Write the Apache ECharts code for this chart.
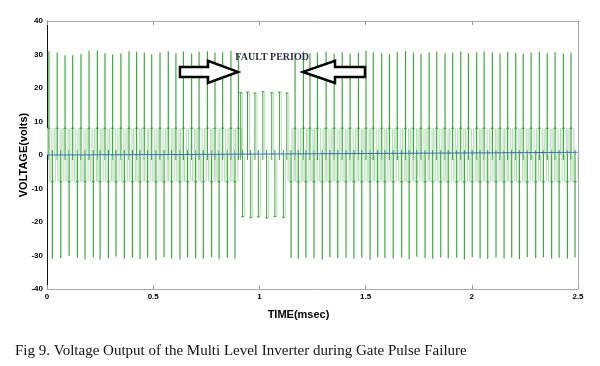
<!DOCTYPE html>
<html><head><meta charset="utf-8">
<script src="https://cdn.jsdelivr.net/npm/echarts@6/dist/echarts.min.js"></script>
<style>html,body{margin:0;padding:0;background:#fff}#c{width:600px;height:366px}</style>
</head><body><div id="c"></div>
<script>
// ---- data (time in msec, voltage in volts) ----
const posPeakTimes = [0.009,0.048,0.085,0.121,0.160,0.198,0.237,0.273,0.309,0.348,0.386,0.422,0.458,0.493,0.532,0.571,0.607,0.642,0.681,0.716,0.755,0.791,0.827,0.866,0.901,
  1.168,1.207,1.238,1.273,1.314,1.352,1.390,1.427,1.466,1.502,1.536,1.576,1.612,1.649,1.688,1.725,1.761,1.799,1.835,1.874,1.910,1.948,1.984,2.023,2.058,2.097,2.133,2.169,2.207,2.242,2.279,2.318,2.355,2.392,2.431,2.467];
const posPeakValues = [31.0,30.6,29.8,29.8,30.2,31.1,31.2,30.4,30.0,30.3,31.0,30.8,30.5,30.1,30.6,31.0,30.4,30.9,30.3,30.8,31.0,30.5,30.7,31.1,30.4,
  30.5,30.9,30.4,30.6,30.8,30.2,30.7,30.3,30.6,31.1,30.6,30.4,30.1,30.8,31.0,30.5,30.2,30.6,30.9,30.3,30.5,30.9,30.4,30.7,31.0,30.6,30.3,30.8,30.5,30.2,30.6,30.9,30.4,30.7,30.3,30.5];
const negPeakTimes = [0.025,0.065,0.104,0.143,0.179,0.218,0.250,0.289,0.325,0.364,0.402,0.438,0.474,0.513,0.551,0.587,0.626,0.662,0.700,0.736,0.775,0.810,0.849,0.885,
  1.149,1.183,1.219,1.257,1.296,1.332,1.369,1.408,1.445,1.482,1.521,1.557,1.591,1.630,1.670,1.705,1.741,1.780,1.816,1.854,1.889,1.929,1.965,2.002,2.039,2.075,2.114,2.152,2.188,2.224,2.261,2.301,2.337,2.376,2.411,2.450,2.486];
const negPeakValues = [-31.0,-30.8,-30.1,-30.7,-31.2,-30.5,-31.3,-30.8,-30.4,-31.0,-30.6,-31.1,-30.7,-31.4,-30.5,-30.9,-31.2,-30.6,-30.8,-31.0,-30.5,-31.1,-30.7,-30.9,
  -30.8,-31.0,-30.6,-30.9,-31.2,-30.5,-30.8,-30.7,-31.0,-30.6,-31.3,-30.5,-30.8,-30.9,-30.6,-31.1,-30.4,-30.8,-31.0,-30.6,-30.9,-30.7,-31.2,-30.5,-30.8,-31.0,-30.6,-30.9,-30.7,-31.1,-30.5,-30.8,-30.6,-31.0,-30.7,-30.9,-30.6];
const faultPosTimes = [0.912,0.944,0.979,1.016,1.058,1.094,1.129];
const faultPosValues = [18.6,18.8,18.5,18.9,18.6,18.8,18.5];
const faultNegTimes = [0.921,0.959,0.995,1.034,1.073,1.113];
const faultNegValues = [-18.4,-18.7,-18.5,-18.8,-18.4,-18.6];
const stepLevel = 8;              // intermediate inverter level, volts
const driftTimes = [0, 0.5, 1.0, 1.5, 2.0, 2.5];
const driftValues = [0, 0.12, 0.28, 0.45, 0.62, 0.8];
const xTickValues = [0, 0.5, 1, 1.5, 2, 2.5];
const yTickValues = [-40, -30, -20, -10, 0, 10, 20, 30, 40];

// ---- event table: [time, peak, step level] ----
const events = [];
posPeakTimes.forEach((t, i) => events.push([t, posPeakValues[i], stepLevel]));
negPeakTimes.forEach((t, i) => events.push([t, negPeakValues[i], -stepLevel]));
faultPosTimes.forEach((t, i) => events.push([t, faultPosValues[i], 0]));
faultNegTimes.forEach((t, i) => events.push([t, faultNegValues[i], 0]));
events.sort((a, b) => a[0] - b[0]);
const drift = driftTimes.map((t, i) => [t, driftValues[i]]);

function seg(x1, y1, x2, y2, color, w) {
  return {type: 'line', shape: {x1, y1, x2, y2}, silent: true,
          style: {stroke: color, lineWidth: w || 1}};
}
function renderPulse(params, api) {
  const t = api.value(0), p = api.value(1), lvl = api.value(2);
  const [x, yP] = api.coord([t, p]);
  const y0 = api.coord([t, 0])[1];
  const sgn = p > 0 ? 1 : -1;
  const yBack = api.coord([t, -sgn * 1.5])[1];
  const children = [];
  if (lvl !== 0) {
    const yL = api.coord([t, lvl])[1];
    children.push(seg(x - 3, y0, x - 3, yL, '#a6d9a6'));
    children.push(seg(x + 3, y0, x + 3, yL, '#b0ddb0'));
    children.push(seg(x - 1.5, y0, x - 1.5, yL, '#cdeacd'));
    children.push(seg(x - 1.5, yL, x + 1.5, yL, '#4aa84a', 1.2));
    children.push(seg(x, yBack, x, yP, '#2fa22f', 1.1));
  } else {
    children.push(seg(x, yBack, x, yP, '#3aa53a', 1));
    children.push(seg(x - 1.5, yP, x + 1.5, yP, '#3aa53a', 1));
    children.push(seg(x + 2, y0, x + 2, yP, '#b8e0b8', 1));
  }
  return {type: 'group', children};
}

const chart = echarts.init(document.getElementById('c'), null, {renderer: 'canvas'});
const lblStyle = {fontFamily: 'Liberation Sans, Arial', fontWeight: 'bold', fontSize: 8, color: '#000'};
chart.setOption({
  animation: false,
  backgroundColor: '#fff',
  grid: {left: 47, right: 22, top: 21, bottom: 77},
  xAxis: [{
    type: 'value', min: 0, max: 2.5, interval: 0.5, position: 'bottom',
    name: 'TIME(msec)', nameLocation: 'middle', nameGap: 20,
    nameTextStyle: {fontFamily: 'Liberation Sans, Arial', fontWeight: 'bold', fontSize: 11, color: '#000', padding: [0, 28, 0, 0]},
    axisLine: {onZero: false, lineStyle: {color: '#aaa', width: 1}},
    axisTick: {inside: true, length: 4, lineStyle: {color: '#999'}},
    axisLabel: Object.assign({margin: 4, formatter: v => String(v)}, lblStyle),
    splitLine: {show: false}
  }, {
    type: 'value', min: 0, max: 2.5, interval: 0.5, position: 'top',
    axisLine: {onZero: false, lineStyle: {color: '#aaa'}},
    axisTick: {inside: true, length: 4, lineStyle: {color: '#999'}},
    axisLabel: {show: false}, splitLine: {show: false}
  }],
  yAxis: [{
    type: 'value', min: -40, max: 40, interval: 10, position: 'left',
    axisLine: {show: true, onZero: false, lineStyle: {color: '#111', width: 1}},
    axisTick: {show: false},
    axisLabel: Object.assign({margin: 4}, lblStyle),
    splitLine: {show: false}
  }, {
    type: 'value', min: -40, max: 40, interval: 10, position: 'right',
    axisLine: {show: true, onZero: false, lineStyle: {color: '#aaa'}},
    axisTick: {show: false},
    axisLabel: {show: false}, splitLine: {show: false}
  }],
  series: [
    {type: 'custom', name: 'voltage', data: events, renderItem: renderPulse, silent: true,
     clip: true, encode: {x: 0, y: 1}, z: 2},
    {type: 'line', name: 'reference', data: drift, symbol: 'none', smooth: true, silent: true,
     lineStyle: {color: '#3a5fe0', width: 1}, z: 4}
  ]
});

// ---- annotations placed through the chart's own coordinate system ----
function px(t, v) { return chart.convertToPixel({xAxisIndex: 0, yAxisIndex: 0}, [t, v]); }
function arrow(tTail, tHeadBase, tTip) {
  const bTop = 26.3, bBot = 23.3, hTop = 28.1, hBot = 21.5, mid = 24.8;
  return [px(tTail, bTop), px(tHeadBase, bTop), px(tHeadBase, hTop), px(tTip, mid),
          px(tHeadBase, hBot), px(tHeadBase, bBot), px(tTail, bBot)];
}
const labelPos = px(1.06, 29.2);
const yNamePos = px(0, 0);
chart.setOption({
  graphic: [
    {type: 'polygon', shape: {points: arrow(0.626, 0.758, 0.899)}, z: 100,
     style: {fill: '#fff', stroke: '#000', lineWidth: 2.5}},
    {type: 'polygon', shape: {points: arrow(1.497, 1.356, 1.205)}, z: 100,
     style: {fill: '#fff', stroke: '#000', lineWidth: 2.5}},
    {type: 'text', x: labelPos[0], y: labelPos[1], z: 100,
     style: {text: 'FAULT PERIOD', fill: '#2b2d4d', font: 'bold 10px "Liberation Serif", "Times New Roman", serif',
             align: 'center', verticalAlign: 'middle'}},
    {type: 'text', x: yNamePos[0] - 23, y: yNamePos[1], rotation: Math.PI / 2, z: 100,
     style: {text: 'VOLTAGE(volts)', fill: '#000', font: 'bold 11px "Liberation Sans", Arial, sans-serif',
             align: 'center', verticalAlign: 'middle'}},
    {type: 'text', x: 15, y: 351, z: 100,
     style: {text: 'Fig 9. Voltage Output of the Multi Level Inverter during Gate Pulse Failure',
             fill: '#111', font: '15px "Liberation Serif", "Times New Roman", serif',
             align: 'left', verticalAlign: 'middle'}}
  ]
});
</script>
</body></html>
